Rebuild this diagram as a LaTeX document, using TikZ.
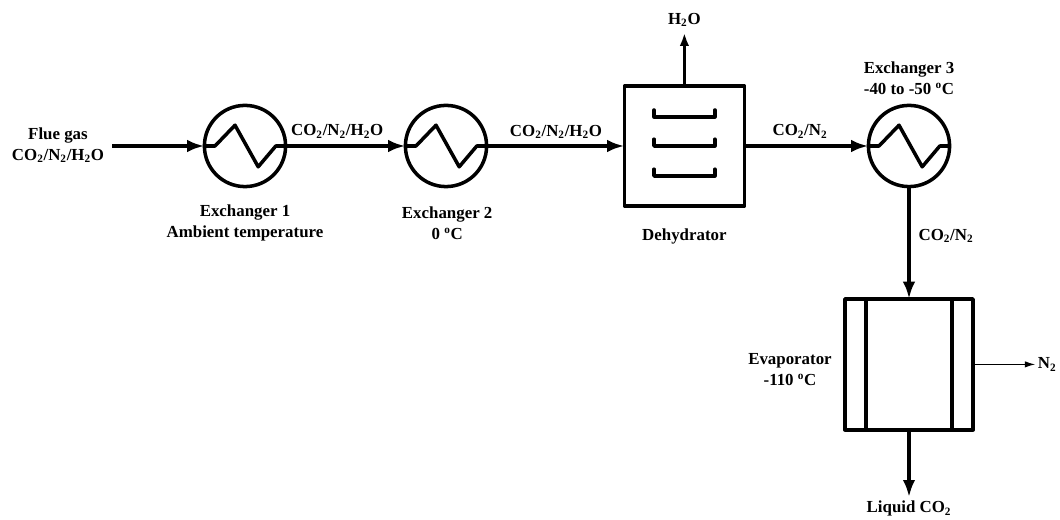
\documentclass[tikz,border=0pt]{standalone}
\usepackage{fontspec}
\setmainfont{Liberation Serif}
\usetikzlibrary{arrows.meta,positioning}
\newcommand{\cotwo}{CO\textsubscript{2}}
\newcommand{\ntwo}{N\textsubscript{2}}
\newcommand{\water}{H\textsubscript{2}O}
\newcommand{\degc}{\textsuperscript{o}C}
\begin{document}
\begin{tikzpicture}[line width=2.5pt,line join=round,>={Latex[length=4.3mm,width=3.1mm]},
    exchanger/.style={circle,draw,minimum size=2.03cm,inner sep=0pt,outer sep=0pt},
    vessel/.style={rectangle,draw,inner sep=0pt,outer sep=0pt},
    tag/.style={align=center,inner sep=0pt,font=\fontsize{12}{14.9}\selectfont\bfseries}]
        %%%%%%%%%%%%%%%%%%%%%%%%%%%units%%%%%%%%%%%%%%%%%%%%%%
          \useasboundingbox (0,0) rectangle (26.5,-13);
          \node (ex1) at (6.125,-3.65) [exchanger] {};
          \node (ex2) at (11.15,-3.65) [exchanger] {};
          \node (ex3) at (22.725,-3.65) [exchanger] {};
          \node (dehy) at (17.11,-3.65) [vessel,minimum size=3cm] {};
          \node (evap) at (22.725,-9.11) [vessel,minimum width=3.2cm,minimum height=3.275cm] {};
          \coordinate (feed) at (2.8,-3.65);
          \coordinate (vent) at (17.11,-0.82);
          \coordinate (liquid) at (22.725,-12.43);
          \coordinate (offgas) at (25.88,-9.11);

          \foreach \unit in {ex1,ex2,ex3}
            \draw[shift={(\unit.center)}] (\unit.west) -- (-0.75,0) -- (-0.25,0.52) -- (0.33,-0.52) -- (0.77,0) -- (\unit.east);

          \foreach \dy in {0.73,0,-0.75}
            \draw[shift={(dehy.center)},line cap=round] (-0.76,\dy+0.17) -- (-0.76,\dy) -- (0.76,\dy) -- (0.76,\dy+0.17);

          \draw ([xshift=-1.075cm]evap.north) -- ([xshift=-1.075cm]evap.south);
          \draw ([xshift=1.075cm]evap.north) -- ([xshift=1.075cm]evap.south);

        %%%%%%%%%%%%%%%%%%%%%%%%%%%streams%%%%%%%%%%%%%%%%%%%%%%
          \draw [->](feed) -- (ex1);
          \draw [->](ex1) -- (ex2);
          \draw [->](ex2) -- (dehy);
          \draw [->](dehy) -- (ex3);
          \draw [->](ex3) -- (evap);
          \draw [->](evap) -- (liquid);
          \draw [-{Latex[length=3.3mm,width=2.4mm]},line width=2pt](dehy) -- (vent);
          \draw [-{Latex[length=2.6mm,width=1.6mm]},line width=0.8pt](evap) -- (offgas);

        %%%%%%%%%%%%%%%%%%%%%%%%%%%labels%%%%%%%%%%%%%%%%%%%%%%
          \node (tfeed) at (1.45,-3.63) [tag] {Flue gas\\\cotwo/\ntwo/\water};
          \node (tex1) at (6.125,-5.58) [tag] {Exchanger 1\\Ambient temperature};
          \node (tex2) at (11.18,-5.58) [tag] {Exchanger 2\\0 \degc};
          \node (tex3) at (22.725,-1.95) [tag] {Exchanger 3\\-40 to -50 \degc};
          \node (tdehy) at (17.11,-5.9) [tag] {Dehydrator};
          \node (tevap) at (19.75,-9.25) [tag] {Evaporator\\-110 \degc};
          \node (s1) at (8.43,-3.28) [tag] {\cotwo/\ntwo/\water};
          \node (s2) at (13.9,-3.3) [tag] {\cotwo/\ntwo/\water};
          \node (s3) at (20,-3.28) [tag] {\cotwo/\ntwo};
          \node (s4) at (23.65,-5.9) [tag] {\cotwo/\ntwo};
          \node (s5) at (17.11,-0.5) [tag] {\water};
          \node (s6) at (26.18,-9.11) [tag] {\ntwo};
          \node (s7) at (22.725,-12.72) [tag] {Liquid \cotwo};
        \end{tikzpicture}
\end{document}
